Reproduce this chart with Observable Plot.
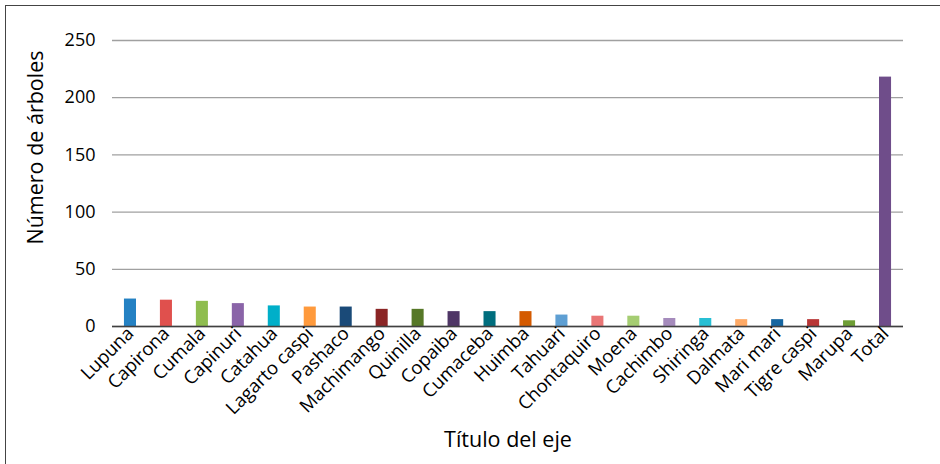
<!DOCTYPE html>
<html>
<head>
<meta charset="utf-8">
<script src="https://cdn.jsdelivr.net/npm/d3@7"></script>
<script src="https://cdn.jsdelivr.net/npm/@observablehq/plot@0.6"></script>
<style>
  body { margin: 0; background: #fff; }
  #chart { position: relative; width: 940px; height: 464px; overflow: hidden; }
  #frame { position: absolute; left: 5px; top: 5px; width: 1000px; height: 1000px;
           border-left: 1.5px solid #444; border-top: 1.5px solid #444; pointer-events: none; }
  #chart svg { position: absolute; left: 0; top: 0; }
</style>
</head>
<body>
<div id="chart"><div id="frame"></div></div>
<script>
// Tree species counted in the inventory, plus the overall total
const species = ["Lupuna", "Capirona", "Cumala", "Capinuri", "Catahua", "Lagarto caspi",
  "Pashaco", "Machimango", "Quinilla", "Copaiba", "Cumaceba", "Huimba", "Tahuari",
  "Chontaquiro", "Moena", "Cachimbo", "Shiringa", "Dalmata", "Mari mari", "Tigre caspi",
  "Marupa", "Total"];
const trees = [24, 23, 22, 20, 18, 17, 17, 15, 15, 13, 13, 13, 10, 9, 9, 7, 7, 6, 6, 6, 5, 218];
const barColors = ["#2481c3", "#e0504d", "#8fbd4f", "#8a64a8", "#00afc9", "#ff9a3c",
  "#1a4a78", "#8b2525", "#567827", "#4f3666", "#006e7e", "#d45a00", "#5e9fd3",
  "#e97575", "#a5cd72", "#a58bbc", "#27bfd4", "#ffaa66", "#1565a0", "#b83636",
  "#6e9e35", "#6f4d8a"];
const yTicks = [0, 50, 100, 150, 200, 250];
const yTitle = "Número de árboles";
const xTitle = "Título del eje";

const data = species.map((s, i) => ({ species: s, trees: trees[i], color: barColors[i] }));

const chart = Plot.plot({
  width: 940,
  height: 464,
  marginLeft: 112,
  marginRight: 37,
  marginTop: 40,
  marginBottom: 138,
  style: { fontFamily: "'Open Sans', sans-serif", fontSize: "18px", color: "#000", background: "transparent" },
  x: { domain: species, paddingInner: 0.665, paddingOuter: 0.3325, round: false, label: null },
  y: { domain: [0, 250], label: null },
  color: { type: "identity" },
  marks: [
    Plot.gridY(yTicks, { stroke: "#a0a0a0", strokeOpacity: 1, strokeWidth: 1.3 }),
    Plot.barY(data, { x: "species", y: "trees", fill: "color" }),
    Plot.ruleY([0], { stroke: "#404040", strokeWidth: 1.6 }),
    Plot.axisY(yTicks, { tickSize: 0, tickPadding: 17, fontSize: 18, label: null }),
    Plot.axisX({ tickSize: 0, tickRotate: -45, tickPadding: 4, fontSize: 18.5, label: null }),
    Plot.text([yTitle], { frameAnchor: "left", textAnchor: "middle", rotate: -90, dx: -76, dy: -36, fontSize: 21.5 }),
    Plot.text([xTitle], { frameAnchor: "bottom", dy: 120, fontSize: 21.5 })
  ]
});
document.getElementById("chart").appendChild(chart);
</script>
</body>
</html>
